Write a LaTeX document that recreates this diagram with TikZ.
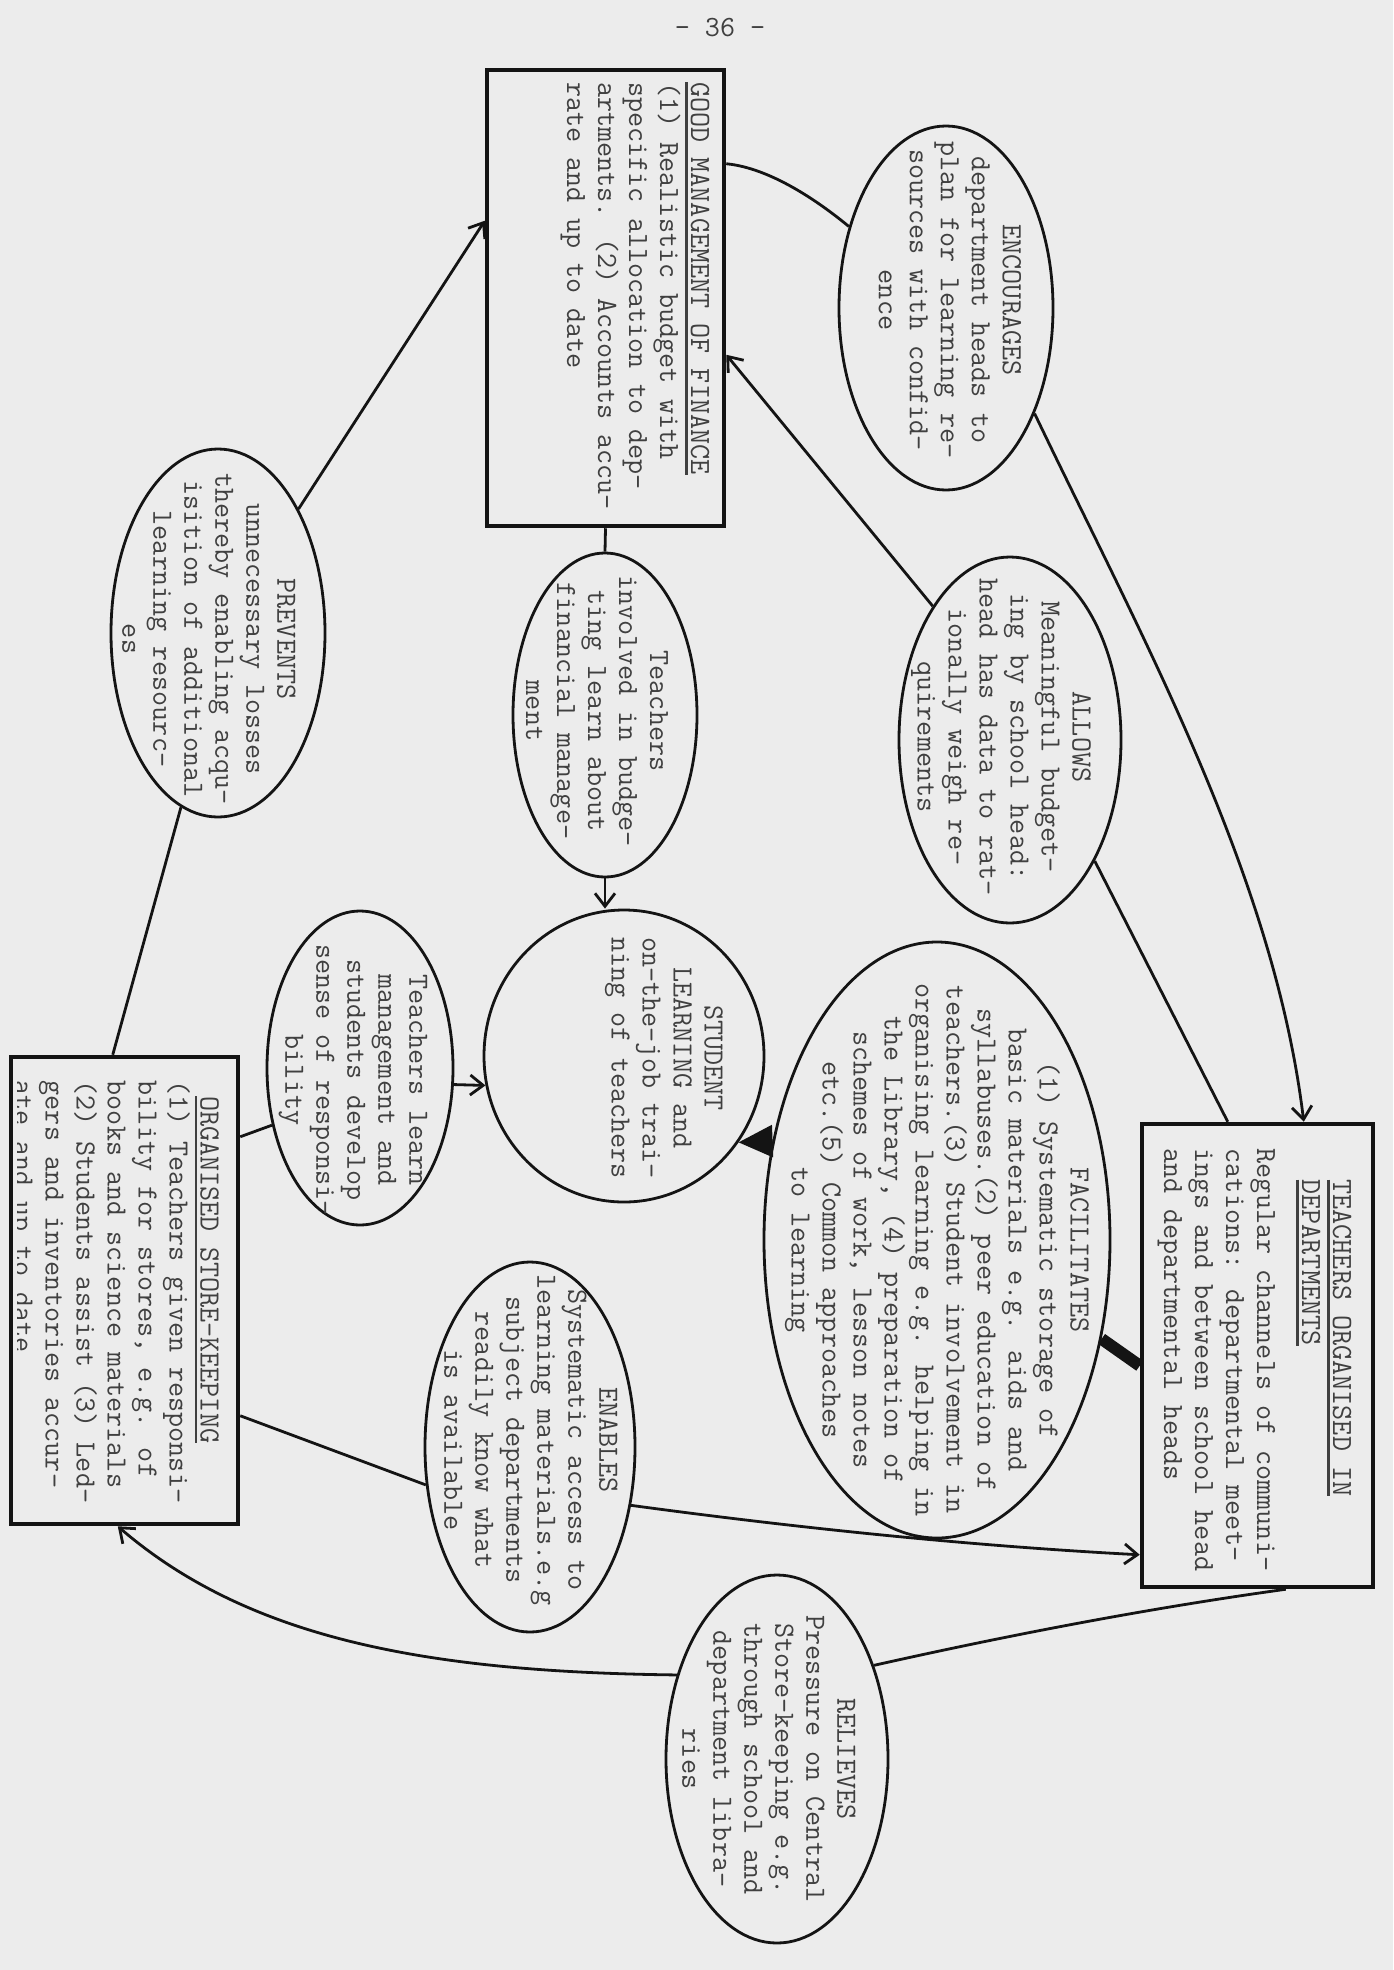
\documentclass[tikz,border=0pt]{standalone}
\usepackage{fontspec}
\usetikzlibrary{arrows.meta,calc,shapes.geometric}
\definecolor{paper}{gray}{0.925}
\definecolor{ink}{gray}{0.08}
\definecolor{typ}{gray}{0.25}
\newcommand\myul[1]{\setbox0\hbox{#1}\rlap{\rule[-6pt]{\wd0}{2.4pt}}\box0}
\newcommand\ind[1]{\hspace*{#1\dimexpr0.525em\relax}}
\begin{document}
\begin{tikzpicture}[x=1pt,y=-1pt,
  tx/.style={font=\ttfamily\fontsize{29.3}{31}\selectfont, text=typ, inner sep=0pt, rotate=-90},
  oval/.style={draw=ink, line width=2.8pt, ellipse, inner sep=0pt},
  boxy/.style={draw=ink, line width=4.5pt, rectangle, inner sep=0pt},
  conn/.style={draw=ink, line width=2.8pt},
  arr/.style={conn, -{Straight Barb[length=13pt,width=20pt]}},
  bigarr/.style={conn, -{Triangle[length=34pt,width=32pt]}},
]
\fill[paper] (0,0) rectangle (1393,1970);
\useasboundingbox (0,0) rectangle (1393,1970);

% page number
\node[font=\ttfamily\fontsize{29.3}{31}\selectfont, text=typ, inner sep=0pt] (pg) at (720,28) {- 36 -};

% shapes
\node[boxy, minimum width=237pt, minimum height=456pt] (good) at (605.5,298) {};
\node[oval, minimum width=214pt, minimum height=364pt] (enc) at (946,308) {};
\node[oval, minimum width=222pt, minimum height=366pt] (allows) at (1010,740) {};
\node[oval, minimum width=184pt, minimum height=324pt] (tinv) at (605,715) {};
\node[oval, minimum width=214pt, minimum height=368pt] (prev) at (218,633) {};
\node[oval, minimum width=280pt, minimum height=292pt] (student) at (624,1056) {};
\node[oval, minimum width=186pt, minimum height=314pt] (tlearn) at (360,1068) {};
\node[boxy, minimum width=227pt, minimum height=467pt] (store) at (124.5,1290.5) {};
\node[oval, minimum width=210pt, minimum height=370pt] (enab) at (530,1447) {};
\node[oval, minimum width=346pt, minimum height=596pt] (fac) at (937,1240) {};
\node[boxy, minimum width=231pt, minimum height=463pt] (teach) at (1257.5,1355.5) {};
\node[oval, minimum width=222pt, minimum height=368pt] (rel) at (777,1759) {};

% texts
\node[tx, align=left] (goodtx) at (635,296) {\myul{GOOD MANAGEMENT OF FINANCE}\\(1) Realistic budget with\\specific allocation to dep-\\artments. (2) Accounts accu-\\rate and up to date};
\node[tx, align=center] (enctx) at (950,300) {ENCOURAGES\\department heads to\\plan for learning re-\\sources with confid-\\ence};
\node[tx, align=center] (allowstx) at (1001,737) {ALLOWS\\Meaningful budget-\\ing by school head:\\head has data to rat-\\ionally weigh re-\\quirements};
\node[tx, align=center] (tinvtx) at (597,711) {Teachers\\involved in budge-\\ting learn about\\financial manage-\\ment};
\node[tx, align=center] (prevtx) at (209,639) {PREVENTS\\unnecessary losses\\thereby enabling acqu-\\isition of additional\\learning resourc-\\es};
\node[tx, align=center] (studenttx) at (664,1058) {STUDENT\\LEARNING and\\on-the-job trai-\\ning of teachers};
\node[tx, align=center] (tlearntx) at (353,1080) {Teachers learn\\management and\\students develop\\sense of responsi-\\bility};
\node[tx, align=center] (factx) at (937,1250) {FACILITATES\\(1) Systematic storage of\\basic materials e.g. aids and\\syllabuses.(2) peer education of\\teachers.(3) Student involvement in\\organising learning e.g. helping in\\the Library, (4) preparation of\\schemes of work, lesson notes\\etc.(5) Common approaches\\to learning};
\node[tx, align=left] (teachtx) at (1254.5,1360) {\ind{2}\myul{TEACHERS ORGANISED IN}\\\ind{2}\myul{DEPARTMENTS}\\[14pt]Regular channels of communi-\\cations: departmental meet-\\ings and between school head\\and departmental heads};
\begin{scope}
\clip (17,1000) rectangle (400,1600);
\node[tx, align=left] (storetx) at (113.5,1292) {\ind{1}\myul{ORGANISED STORE-KEEPING}\\(1) Teachers given responsi-\\bility for stores, e.g. of\\books and science materials\\(2) Students assist (3) Led-\\gers and inventories accur-\\ate and up to date};
\end{scope}
\node[tx, align=center] (enabtx) at (531,1440) {ENABLES\\Systematic access to\\learning materials.e.g\\subject departments\\readily know what\\is available};
\node[tx, align=center] (reltx) at (769,1759) {RELIEVES\\Pressure on Central\\Store-keeping e.g.\\through school and\\department libra-\\ries};

% connectors
\draw[conn] ($(good.north east)+(0,96)$) .. controls (770,168) and (818,201) .. (enc.140);
\draw[arr] (allows.120) -- ($(good.north east)+(0,287)$);
\draw[arr] (enc.-50) .. controls (1143,640) and (1274,876) .. ($(teach.north west)+(164,0)$);
\draw[conn] (allows.-55) -- ($(teach.north west)+(88,0)$);
\draw[conn] (good.south) -- (tinv.north);
\draw[arr] (tinv.south) -- (tinv.south |- student.north);
\draw[arr] (prev.57) -- ($(good.north west)+(0,153)$);
\draw[conn] (prev.-102) -- ($(store.north west)+(104,0)$);
\draw[conn] ($(store.north east)+(0,82)$) -- (tlearn.-147);
\draw[arr] (tlearn.-10) -- (student.-168);
\draw[conn] ($(store.north east)+(0,361)$) -- (enab.-160);
\draw[arr] (enab.-30) .. controls (798,1528) and (972,1546) .. ($(teach.north west)+(0,433)$);
\draw[bigarr] (fac.149) -- (student.-37);
\draw[ink, line width=12pt] (fac.-31) -- ($(teach.north west)+(0,244)$);
\draw[conn] ($(teach.south west)+(146,0)$) .. controls (1150,1608) and (1009,1635) .. (rel.44);
\draw[arr] (rel.140) .. controls (430,1672) and (250,1640) .. ($(store.south west)+(109,0)$);
\end{tikzpicture}
\end{document}
